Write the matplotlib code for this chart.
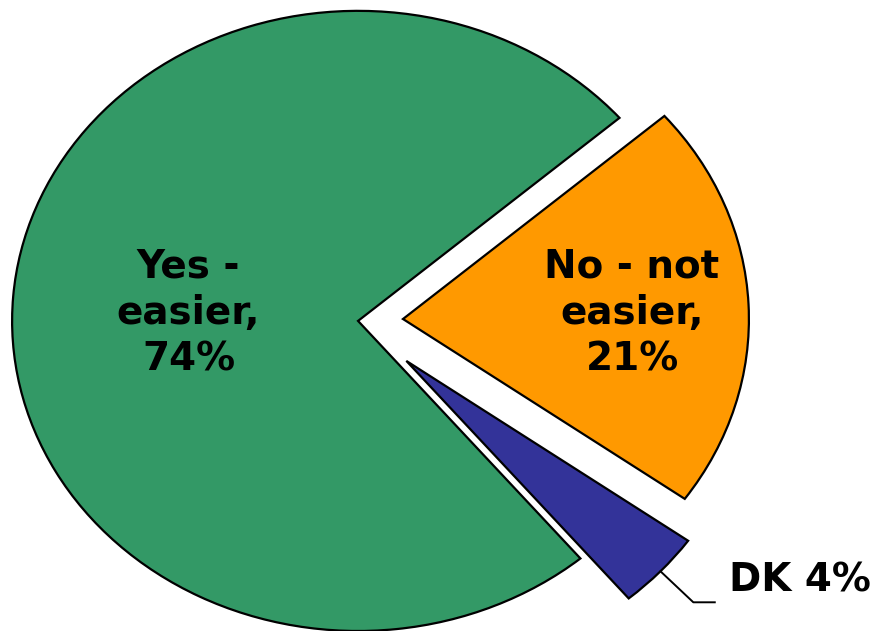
import numpy as np
import matplotlib
matplotlib.use("Agg")
import matplotlib.pyplot as plt

labels = ["Yes -\neasier,\n74%", "No - not\neasier,\n21%", "DK 4%"]
values = [74, 21, 4]
colors = ["#339966", "#FF9900", "#333399"]
explode = [0, 0.13, 0.19]

fig = plt.figure(figsize=(8.87, 6.31), dpi=100)
ax = fig.add_axes([0, 0, 1, 1])

wedges, _ = ax.pie(values, colors=colors, explode=explode, startangle=310,
                   counterclock=False,
                   wedgeprops=dict(edgecolor="black", linewidth=1.6))

ax.set_aspect("auto")
ax.set_xlim(-1.035, 1.529)
ax.set_ylim(-1.0, 1.035)
ax.axis("off")

font = dict(family="DejaVu Sans", fontsize=28, fontweight="bold", color="black")

# labels inside the two big slices
ax.text(-0.49, 0.026, labels[0], ha="center", va="center", linespacing=1.28, **font)
ax.text(0.792, 0.026, labels[1], ha="center", va="center", linespacing=1.28, **font)

# DK label with leader line from the arc middle of the small wedge
w = wedges[2]
mid = np.deg2rad((w.theta1 + w.theta2) / 2)
x0 = w.center[0] + w.r * np.cos(mid)
y0 = w.center[1] + w.r * np.sin(mid)
x1, y1 = x0 + 0.095, y0 - 0.1
x2 = x1 + 0.062
ax.plot([x0, x1, x2], [y0, y1, y1], color="black", linewidth=1.4)
ax.text(x2 + 0.04, y1 + 0.035, labels[2], ha="left", va="baseline", **font)

fig.savefig("out.png", dpi=100)
